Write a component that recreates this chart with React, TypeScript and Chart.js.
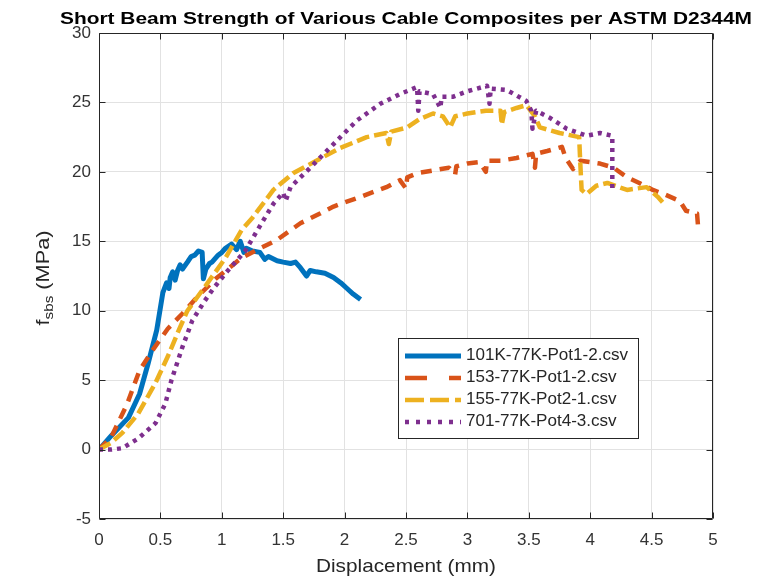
import { useEffect, useRef } from "react";
import { Chart, registerables } from "chart.js";

Chart.register(...registerables);

const TITLE = "Short Beam Strength of Various Cable Composites per ASTM D2344M";
const X_LABEL = "Displacement (mm)";
const Y_LABEL_MAIN = "f";
const Y_LABEL_SUB = "sbs";
const Y_LABEL_UNIT = " (MPa)";

const X_TICKS = [0, 0.5, 1, 1.5, 2, 2.5, 3, 3.5, 4, 4.5, 5];
const Y_TICKS = [-5, 0, 5, 10, 15, 20, 25, 30];

const SERIES_NAMES = [
  "101K-77K-Pot1-2.csv",
  "153-77K-Pot1-2.csv",
  "155-77K-Pot2-1.csv",
  "701-77K-Pot4-3.csv",
];
const SERIES_COLORS = ["#0072BD", "#D95319", "#EDB120", "#7E2F8E"];

const blueX = [0, 0.02, 0.1, 0.24, 0.33, 0.4, 0.47, 0.52, 0.55, 0.57, 0.58, 0.6, 0.62, 0.64, 0.66, 0.68, 0.72, 0.75, 0.78, 0.81, 0.84, 0.85, 0.87, 0.9, 0.92, 0.97, 1.0, 1.03, 1.08, 1.12, 1.15, 1.18, 1.2, 1.25, 1.31, 1.35, 1.38, 1.45, 1.5, 1.56, 1.6, 1.64, 1.69, 1.72, 1.77, 1.84, 1.91, 1.97, 2.02, 2.07, 2.13];
const blueY = [0, 0.2, 1.0, 2.3, 4.0, 6.2, 8.6, 11.3, 12.0, 11.6, 12.4, 12.8, 12.2, 12.9, 13.3, 13.0, 13.5, 13.9, 14.0, 14.3, 14.2, 12.3, 13.0, 13.4, 13.5, 14.0, 14.2, 14.5, 14.8, 14.4, 15.0, 14.2, 14.5, 14.3, 14.2, 13.7, 13.9, 13.6, 13.5, 13.4, 13.5, 13.1, 12.5, 12.9, 12.8, 12.7, 12.4, 12.0, 11.6, 11.2, 10.8];

const orangeX = [0, 0.1, 0.23, 0.33, 0.44, 0.56, 0.68, 0.8, 0.95, 1.05, 1.16, 1.29, 1.45, 1.64, 1.8, 1.91, 2.0, 2.13, 2.25, 2.34, 2.45, 2.5, 2.51, 2.59, 2.72, 2.85, 2.9, 2.91, 3.0, 3.1, 3.15, 3.16, 3.27, 3.4, 3.53, 3.55, 3.56, 3.65, 3.77, 3.8, 3.86, 3.92, 4.08, 4.19, 4.3, 4.4, 4.51, 4.6, 4.73, 4.78, 4.87, 4.88];
const orangeY = [0, 0.9, 3.3, 5.7, 7.2, 8.7, 9.8, 11.0, 12.3, 13.0, 13.8, 14.4, 15.1, 16.3, 17.0, 17.5, 17.8, 18.2, 18.6, 18.9, 19.4, 18.8, 19.6, 19.9, 20.1, 20.3, 19.8, 20.4, 20.6, 20.7, 20.0, 20.8, 20.8, 21.0, 21.3, 20.3, 21.3, 21.5, 21.8, 21.0, 20.2, 20.8, 20.6, 20.3, 19.6, 19.2, 18.7, 18.4, 17.9, 17.2, 17.0, 15.9];

const yellowX = [0, 0.1, 0.19, 0.32, 0.46, 0.56, 0.65, 0.72, 0.86, 1.03, 1.16, 1.25, 1.42, 1.58, 1.77, 1.96, 2.18, 2.34, 2.36, 2.38, 2.51, 2.61, 2.72, 2.8, 2.86, 2.9, 3.0, 3.15, 3.27, 3.28, 3.3, 3.4, 3.48, 3.55, 3.59, 3.75, 3.91, 3.92, 3.93, 3.97, 4.05, 4.14, 4.3, 4.46, 4.55, 4.6];
const yellowY = [0, 0.5, 1.2, 2.6, 4.8, 6.7, 8.6, 10.0, 11.7, 13.8, 15.8, 16.7, 18.7, 19.9, 20.8, 21.7, 22.5, 22.8, 22.0, 22.9, 23.2, 23.8, 24.2, 24.0, 23.2, 24.0, 24.2, 24.4, 24.4, 23.4, 24.3, 24.6, 24.8, 24.0, 23.2, 22.8, 22.5, 20.5, 18.7, 18.4, 19.0, 19.2, 18.7, 18.9, 18.2, 17.7];

const purpleX = [0, 0.1, 0.19, 0.32, 0.46, 0.54, 0.59, 0.68, 0.76, 0.86, 0.94, 1.05, 1.19, 1.29, 1.42, 1.5, 1.52, 1.56, 1.72, 1.91, 2.1, 2.29, 2.45, 2.59, 2.6, 2.61, 2.72, 2.78, 2.79, 2.88, 3.0, 3.16, 3.18, 3.19, 3.32, 3.48, 3.52, 3.53, 3.56, 3.67, 3.81, 3.97, 4.08, 4.18, 4.18];
const purpleY = [0, 0, 0.1, 0.8, 1.9, 3.3, 5.0, 7.4, 9.3, 10.7, 11.7, 12.9, 14.3, 15.8, 17.7, 18.5, 17.9, 18.9, 20.3, 22.0, 23.7, 24.9, 25.6, 26.1, 24.4, 25.8, 25.6, 24.6, 25.4, 25.4, 25.8, 26.2, 24.9, 26.0, 25.9, 25.1, 24.4, 23.1, 24.4, 23.9, 23.1, 22.6, 22.8, 22.6, 18.7];

const SERIES_X = [blueX, orangeX, yellowX, purpleX];
const SERIES_Y = [blueY, orangeY, yellowY, purpleY];
const SERIES_WIDTHS = [5, 4.5, 4.5, 4.5];
const SERIES_DASHES: number[][] = [[], [11, 8], [13, 5], [4, 5]];
const LEGEND_DASHES: number[][] = [[], [22, 22], [19, 6], [4, 7]];

const FONT = '"Liberation Sans", Arial, sans-serif';
const AXIS_COLOR = "#262626";

function fitText(ctx: CanvasRenderingContext2D, text: string, x: number, y: number, width: number, align: "left" | "center") {
  const w = ctx.measureText(text).width;
  const sx = width / w;
  ctx.save();
  ctx.translate(x, y);
  ctx.scale(sx, 1);
  ctx.textAlign = align;
  ctx.fillText(text, 0, 0);
  ctx.restore();
}

const overlay = {
  id: "overlay",
  afterDraw(chart: any) {
    const { ctx, chartArea: a, scales } = chart;
    const xs = scales.x;
    const ys = scales.y;
    ctx.save();
    ctx.strokeStyle = AXIS_COLOR;
    ctx.lineWidth = 1;
    const L = Math.round(a.left) + 0.5;
    const R = Math.round(a.right) - 0.5;
    const T = Math.round(a.top) + 0.5;
    const B = Math.round(a.bottom) - 0.5;
    ctx.beginPath();
    ctx.moveTo(L, T); ctx.lineTo(R, T); ctx.lineTo(R, B); ctx.lineTo(L, B); ctx.closePath();
    const tl = 6;
    X_TICKS.forEach((v) => {
      const px = Math.round(xs.getPixelForValue(v)) + 0.5;
      ctx.moveTo(px, B); ctx.lineTo(px, B - tl);
      ctx.moveTo(px, T); ctx.lineTo(px, T + tl);
    });
    Y_TICKS.forEach((v) => {
      const py = Math.round(ys.getPixelForValue(v)) + 0.5;
      ctx.moveTo(L, py); ctx.lineTo(L + tl, py);
      ctx.moveTo(R, py); ctx.lineTo(R - tl, py);
    });
    ctx.stroke();

    // title
    ctx.fillStyle = "#000";
    ctx.textBaseline = "alphabetic";
    ctx.font = `bold 17px ${FONT}`;
    fitText(ctx, TITLE, (a.left + a.right) / 2, 24, 692, "center");

    // x label
    ctx.fillStyle = AXIS_COLOR;
    ctx.font = `18.5px ${FONT}`;
    fitText(ctx, X_LABEL, (a.left + a.right) / 2, 572, 180, "center");

    // y label (rotated)
    ctx.save();
    ctx.translate(49, (a.top + a.bottom) / 2 + 2);
    ctx.rotate(-Math.PI / 2);
    ctx.font = `18.5px ${FONT}`;
    const wMain = ctx.measureText(Y_LABEL_MAIN).width;
    const wUnit = ctx.measureText(Y_LABEL_UNIT).width;
    ctx.font = `13px ${FONT}`;
    const wSub = ctx.measureText(Y_LABEL_SUB).width;
    const total = wMain + wSub + wUnit;
    const s = 95 / total;
    ctx.scale(s, 1);
    let cx = -total / 2;
    ctx.textAlign = "left";
    ctx.font = `18.5px ${FONT}`;
    ctx.fillText(Y_LABEL_MAIN, cx, 0);
    cx += wMain;
    ctx.font = `13px ${FONT}`;
    ctx.fillText(Y_LABEL_SUB, cx, 4);
    cx += wSub;
    ctx.font = `18.5px ${FONT}`;
    ctx.fillText(Y_LABEL_UNIT, cx, 0);
    ctx.restore();

    // legend
    const lx = 398.5, ly = 338.5, lw = 240, lh = 100;
    ctx.fillStyle = "#fff";
    ctx.fillRect(lx, ly, lw, lh);
    ctx.strokeStyle = AXIS_COLOR;
    ctx.lineWidth = 1;
    ctx.setLineDash([]);
    ctx.strokeRect(lx, ly, lw, lh);
    const rows = [356, 378, 400, 422];
    ctx.font = `16px ${FONT}`;
    const textScale = 162 / ctx.measureText(SERIES_NAMES[0]).width;
    SERIES_NAMES.forEach((name, i) => {
      const ry = rows[i];
      ctx.save();
      ctx.strokeStyle = SERIES_COLORS[i];
      ctx.lineWidth = SERIES_WIDTHS[i];
      ctx.setLineDash(LEGEND_DASHES[i]);
      ctx.beginPath();
      ctx.moveTo(405, ry);
      ctx.lineTo(461, ry);
      ctx.stroke();
      ctx.restore();
      ctx.save();
      ctx.fillStyle = AXIS_COLOR;
      ctx.textBaseline = "middle";
      ctx.textAlign = "left";
      ctx.translate(466, ry);
      ctx.scale(textScale, 1);
      ctx.fillText(name, 0, 0);
      ctx.restore();
    });
    ctx.restore();
  },
};

export default function App() {
  const ref = useRef<HTMLCanvasElement | null>(null);
  useEffect(() => {
    if (!ref.current) return;
    const datasets = SERIES_NAMES.map((name, i) => ({
      label: name,
      data: SERIES_X[i].map((x, j) => ({ x, y: SERIES_Y[i][j] })),
      showLine: true,
      borderColor: SERIES_COLORS[i],
      backgroundColor: SERIES_COLORS[i],
      borderWidth: SERIES_WIDTHS[i],
      borderDash: SERIES_DASHES[i],
      borderCapStyle: "butt" as const,
      borderJoinStyle: "round" as const,
      pointRadius: 0,
      tension: 0,
      fill: false,
      order: 4 - i,
    }));
    const chart = new Chart(ref.current, {
      type: "scatter",
      data: { datasets },
      plugins: [overlay],
      options: {
        responsive: false,
        animation: false,
        devicePixelRatio: 1,
        layout: { padding: { top: 33, right: 53, left: 0, bottom: 0 } },
        plugins: { legend: { display: false }, tooltip: { enabled: false }, title: { display: false } },
        scales: {
          x: {
            type: "linear",
            min: 0,
            max: 5,
            afterFit: (s: any) => { s.height = 61; },
            afterBuildTicks: (s: any) => { s.ticks = X_TICKS.map((v) => ({ value: v })); },
            grid: { color: "#e2e2e2", drawTicks: false },
            border: { display: false },
            ticks: {
              padding: 11,
              color: "#333",
              font: { family: FONT, size: 17 },
              callback: (v: any) => String(Number(v)),
              maxRotation: 0,
            },
          },
          y: {
            type: "linear",
            min: -5,
            max: 30,
            afterFit: (s: any) => { s.width = 99; },
            afterBuildTicks: (s: any) => { s.ticks = Y_TICKS.map((v) => ({ value: v })); },
            grid: { color: "#e2e2e2", drawTicks: false },
            border: { display: false },
            ticks: {
              padding: 8,
              color: "#333",
              font: { family: FONT, size: 17 },
              callback: (v: any) => String(Number(v)),
            },
          },
        },
      },
    });
    return () => chart.destroy();
  }, []);
  return (
    <div style={{ position: "absolute", left: 0, top: 0, width: 766, height: 580, background: "#fff" }}>
      <canvas ref={ref} width={766} height={580} style={{ display: "block", width: 766, height: 580 }} />
    </div>
  );
}
